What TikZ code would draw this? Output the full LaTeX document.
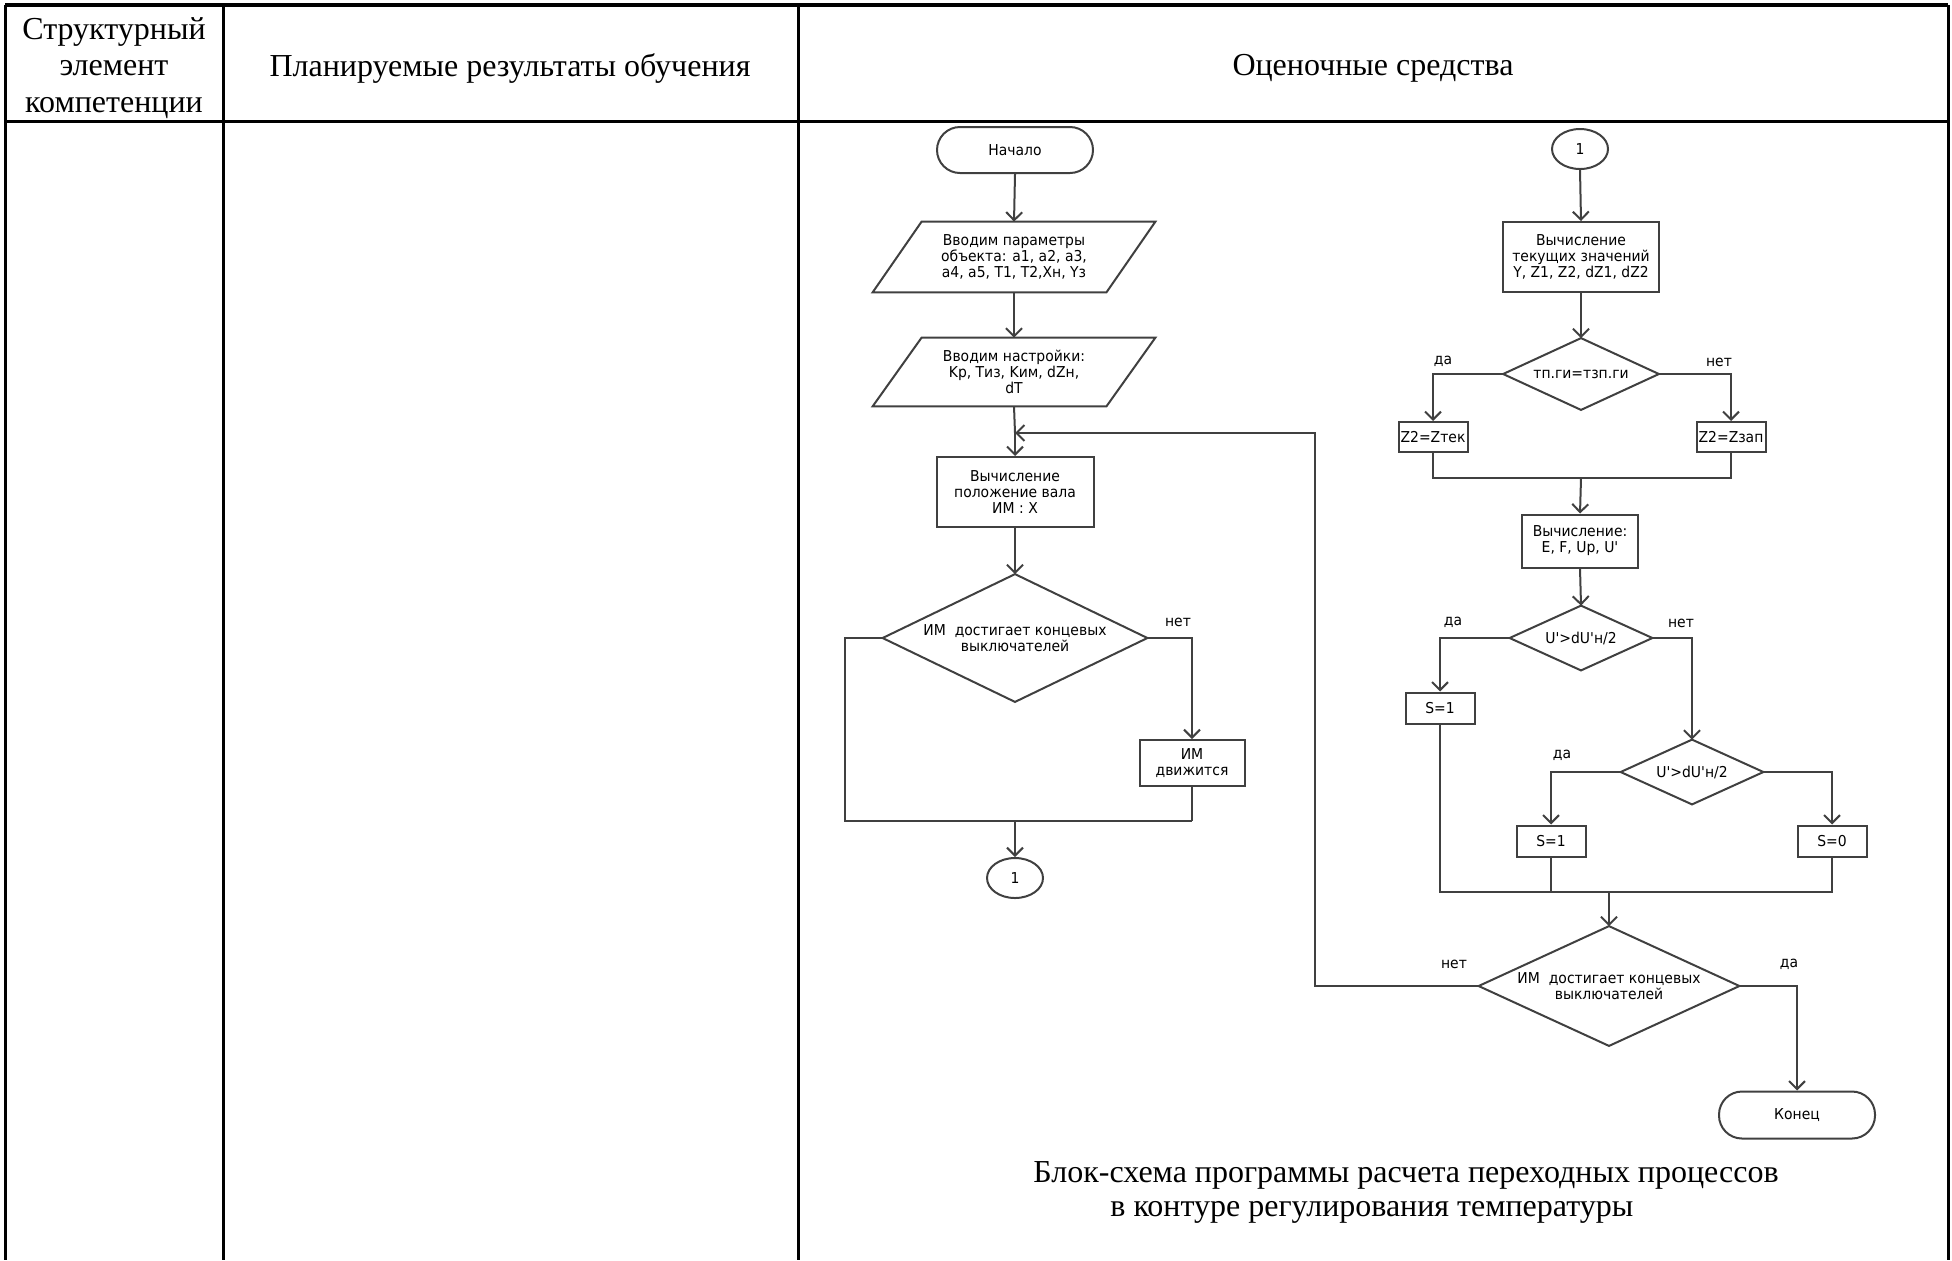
\documentclass[tikz,border=0pt]{standalone}
\usepackage{fontspec}
\setmainfont{Liberation Serif}
\newfontfamily\fcfont{DejaVu Sans}[FakeStretch=0.93]
\usetikzlibrary{arrows.meta,shapes.geometric}
\definecolor{fcgray}{HTML}{404040}
\tikzset{
  tbl/.style={line width=1.5pt, draw=black},
  hdr/.style={font=\fontsize{16}{18.2}\selectfont, align=center, inner sep=0pt},
  fcl/.style={draw=fcgray, line width=1pt},
  arr/.style={fcl, -{Straight Barb[length=4pt,width=8pt]}},
  fctext/.style={font=\fcfont\fontsize{7.5}{8}\selectfont, align=center, inner sep=0pt, text=black},
  procbox/.style={fctext, draw=fcgray, line width=1pt, rectangle},
  termbox/.style={procbox, rounded corners=11.5pt},
  shapebox/.style={fctext, rectangle},
  circ/.style={fctext, draw=fcgray, line width=1pt, ellipse, minimum width=28pt, minimum height=20pt},
  lbl/.style={fctext}
}
% name, x, y, width, height, text
\newcommand{\fcdiam}[6]{%
  \node[shapebox, minimum width=#4, minimum height=#5] (#1) at (#2,#3) {#6};
  \draw[fcl] (#1.north) -- (#1.east) -- (#1.south) -- (#1.west) -- cycle;}
\newcommand{\fcio}[6]{%
  \node[shapebox, minimum width=#4, minimum height=#5] (#1) at (#2,#3) {#6};
  \draw[fcl] ([xshift=12.25pt]#1.north west) -- ([xshift=12.25pt]#1.north east)
    -- ([xshift=-12.25pt]#1.south east) -- ([xshift=-12.25pt]#1.south west) -- cycle;}
\begin{document}
\begin{tikzpicture}[x=0.5pt,y=-0.5pt]
\useasboundingbox (0,0) rectangle (1952,1260);
% ---------- table ----------
\draw[line width=2pt] (5,5) -- (1948,5);
\draw[tbl] (5,121) -- (1948,121);
\draw[tbl] (5,5) -- (5,1260);
\draw[tbl] (223,5) -- (223,1260);
\draw[tbl] (798,5) -- (798,1260);
\draw[tbl] (1948,5) -- (1948,1260);
\node[hdr] (h1) at (114,68) {Структурный\\элемент\\компетенции};
\node[hdr] (h2) at (510,68) {Планируемые результаты обучения};
\node[hdr] (h3) at (1373,68) {Оценочные средства};
% ---------- left flowchart ----------
\node[termbox, minimum width=78pt, minimum height=23pt] (start) at (1015,150) {Начало};
\fcio{io1}{1014}{257}{116.5pt}{35pt}{Вводим параметры\\объекта: a1, a2, a3,\\a4, a5, T1, T2,Xн, Yз}
\fcio{io2}{1014}{372}{116.5pt}{34pt}{Вводим настройки:\\Kр, Тиз, Kим, dZн,\\dT}
\coordinate (j1) at (1015,433);
\node[procbox, minimum width=78.5pt, minimum height=35pt] (b1) at (1015,492) {Вычисление\\положение вала\\ИМ : X};
\fcdiam{d1}{1015}{638}{132pt}{63.5pt}{ИМ \ достигает концевых\\выключателей}
\node[procbox, minimum width=52.5pt, minimum height=23pt] (b2) at (1192,763) {ИМ\\движится};
\node[circ] (c1) at (1015,878) {1};
\coordinate (l1) at (845,638);
\coordinate (l2) at (845,821);
\coordinate (r1) at (1192,638);
\coordinate (r2) at (1192,821);
\coordinate (m1) at (1015,821);
\draw[arr] (start.south) -- (io1.north);
\draw[arr] (io1.south) -- (io2.north);
\draw[fcl] (io2.south) -- (j1);
\draw[arr] (j1) -- (b1.north);
\draw[arr] (b1.south) -- (d1.north);
\draw[fcl] (d1.west) -- (l1) -- (l2) -- (r2);
\draw[arr] (d1.east) -- (r1) -- (b2.north);
\draw[fcl] (b2.south) -- (r2);
\draw[arr] (m1) -- (c1.north);
\node[lbl] (n1) at (1178,622) {нет};
% ---------- right flowchart ----------
\node[circ] (c2) at (1580,149) {1};
\node[procbox, minimum width=78pt, minimum height=35pt] (b3) at (1581,257) {Вычисление\\текущих значений\\Y, Z1, Z2, dZ1, dZ2};
\fcdiam{d2}{1581}{374}{77.5pt}{35.5pt}{тп.ги=тзп.ги}
\node[procbox, minimum width=34.5pt, minimum height=15pt] (b4) at (1433,437) {Z2=Zтек};
\node[procbox, minimum width=34.5pt, minimum height=15pt] (b5) at (1731,437) {Z2=Zзап};
\node[procbox, minimum width=58pt, minimum height=26.5pt] (b6) at (1580,541) {Вычисление:\\E, F, Up, U'};
\fcdiam{d3}{1581}{638}{71pt}{32pt}{U'>dU'н/2}
\node[procbox, minimum width=34.5pt, minimum height=15.5pt] (b7) at (1440,708) {S=1};
\fcdiam{d4}{1692}{772}{71pt}{32pt}{U'>dU'н/2}
\node[procbox, minimum width=34.5pt, minimum height=15.5pt] (b8) at (1551,841) {S=1};
\node[procbox, minimum width=34.5pt, minimum height=15.5pt] (b9) at (1832,841) {S=0};
\fcdiam{d5}{1609}{986}{130pt}{59.5pt}{ИМ \ достигает концевых\\выключателей}
\node[termbox, minimum width=78pt, minimum height=23.5pt] (end) at (1797,1115) {Конец};
\coordinate (p1) at (1433,374);
\coordinate (p2) at (1731,374);
\coordinate (p3) at (1433,478);
\coordinate (p4) at (1731,478);
\coordinate (p5) at (1581,478);
\coordinate (q1) at (1440,638);
\coordinate (q2) at (1692,638);
\coordinate (q3) at (1551,772);
\coordinate (q4) at (1832,772);
\coordinate (s1) at (1440,892);
\coordinate (s2) at (1551,892);
\coordinate (s3) at (1832,892);
\coordinate (s4) at (1609,892);
\coordinate (t1) at (1315,986);
\coordinate (t2) at (1315,433);
\coordinate (t3) at (1797,986);
\draw[arr] (c2.south) -- (b3.north);
\draw[arr] (b3.south) -- (d2.north);
\draw[arr] (d2.west) -- (p1) -- (b4.north);
\draw[arr] (d2.east) -- (p2) -- (b5.north);
\draw[fcl] (b4.south) -- (p3) -- (p4) -- (b5.south);
\draw[arr] (p5) -- (b6.north);
\draw[arr] (b6.south) -- (d3.north);
\draw[arr] (d3.west) -- (q1) -- (b7.north);
\draw[arr] (d3.east) -- (q2) -- (d4.north);
\draw[arr] (d4.west) -- (q3) -- (b8.north);
\draw[arr] (d4.east) -- (q4) -- (b9.north);
\draw[fcl] (b7.south) -- (s1) -- (s3) -- (b9.south);
\draw[fcl] (b8.south) -- (s2);
\draw[arr] (s4) -- (d5.north);
\draw[arr] (d5.west) -- (t1) -- (t2) -- (j1);
\draw[arr] (d5.east) -- (t3) -- (end.north);
\node[lbl] (n2) at (1443,361) {да};
\node[lbl] (n3) at (1719,362) {нет};
\node[lbl] (n4) at (1453,622) {да};
\node[lbl] (n5) at (1681,623) {нет};
\node[lbl] (n6) at (1562,755) {да};
\node[lbl] (n7) at (1454,964) {нет};
\node[lbl] (n8) at (1789,964) {да};
% ---------- caption ----------
\node[hdr, anchor=west] (cap1) at (1033,1175) {Блок-схема программы расчета переходных процессов};
\node[hdr, anchor=west] (cap2) at (1110,1212) {в контуре регулирования температуры};
\end{tikzpicture}
\end{document}
